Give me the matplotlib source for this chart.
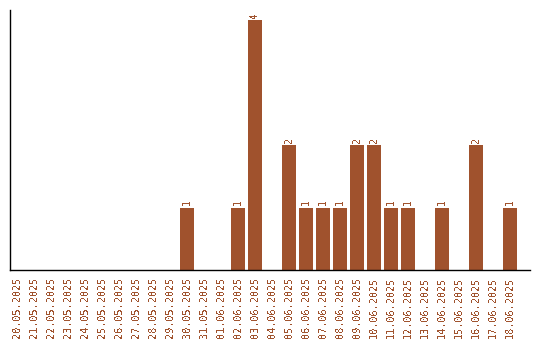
import matplotlib
matplotlib.use("Agg")
import matplotlib.pyplot as plt

# daily counts
dates = ["20.05.2025", "21.05.2025", "22.05.2025", "23.05.2025", "24.05.2025",
         "25.05.2025", "26.05.2025", "27.05.2025", "28.05.2025", "29.05.2025",
         "30.05.2025", "31.05.2025", "01.06.2025", "02.06.2025", "03.06.2025",
         "04.06.2025", "05.06.2025", "06.06.2025", "07.06.2025", "08.06.2025",
         "09.06.2025", "10.06.2025", "11.06.2025", "12.06.2025", "13.06.2025",
         "14.06.2025", "15.06.2025", "16.06.2025", "17.06.2025", "18.06.2025"]
counts = [0, 0, 0, 0, 0, 0, 0, 0, 0, 0,
          1, 0, 0, 1, 4, 0, 2, 1, 1, 1,
          2, 2, 1, 1, 0, 1, 0, 2, 0, 1]

BROWN = "#A0522D"
plt.rcParams["font.family"] = ["DejaVu Sans Mono"]
plt.rcParams["text.antialiased"] = False

fig = plt.figure(figsize=(5.4, 3.4), dpi=100)
ax = fig.add_axes([10 / 540, 70 / 340, 520 / 540, 260 / 340])

x = list(range(len(dates)))
ax.bar(x, counts, width=0.82, color=BROWN)
for xi, c in zip(x, counts):
    if c > 0:
        ax.text(xi, c + 0.04, str(c), rotation=90, ha="center", va="bottom",
                color=BROWN, fontsize=7)

ax.set_xlim(-0.41, 30.18)
ax.set_ylim(0, 4.16)
ax.set_xticks(x)
ax.set_xticklabels(dates, rotation=90, color=BROWN, fontsize=7.4)
ax.tick_params(axis="x", length=0, pad=5)
ax.set_yticks([])
ax.spines["top"].set_visible(False)
ax.spines["right"].set_visible(False)
ax.spines["left"].set_linewidth(1)
ax.spines["bottom"].set_linewidth(1)

fig.savefig("out.png", dpi=100)
